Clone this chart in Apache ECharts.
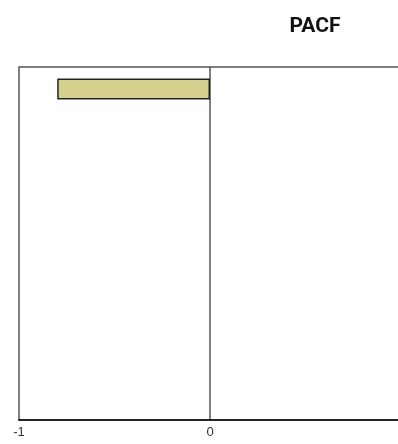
<!DOCTYPE html>
<html><head><meta charset="utf-8">
<script src="https://cdn.jsdelivr.net/npm/echarts@6/dist/echarts.min.js"></script>
<style>html,body{margin:0;padding:0;background:#fff}#c{width:398px;height:444px}</style>
</head><body><div id="c"></div>
<script>
var lags = ['1','2','3','4','5','6','7','8'];
var pacfValues = [-0.80];
var xTicks = [-1, 0, 1];
var chart = echarts.init(document.getElementById('c'));
chart.setOption({
  animation:false,
  title:{text:'PACF', left:310, top:11, textAlign:'center',
    textStyle:{fontFamily:'Roboto, Liberation Sans, Arial', fontWeight:'bold', fontSize:21, color:'#111'}},
  grid:{left:19, top:67, width:382, bottom:24, show:true, borderColor:'#555', borderWidth:1.5,
    backgroundColor:'#fff', containLabel:false, outerBoundsMode:'none'},
  xAxis:{type:'value', min:xTicks[0], max:xTicks[2], interval:1,
    axisLine:{show:true, lineStyle:{color:'#222', width:2}},
    axisTick:{show:false}, splitLine:{show:false},
    axisLabel:{color:'#333', fontSize:13, fontFamily:'Liberation Sans, Arial', margin:6, showMaxLabel:true, hideOverlap:false}},
  yAxis:{type:'category', data:lags, inverse:true,
    axisLine:{show:true, onZero:true, lineStyle:{color:'#555', width:1.5}},
    axisTick:{show:false}, axisLabel:{show:false}, splitLine:{show:false}},
  series:[{type:'bar', data:pacfValues, barWidth:21,
    itemStyle:{color:'#d5d08e', borderColor:'#222', borderWidth:1.5}}]
});
</script></body></html>
